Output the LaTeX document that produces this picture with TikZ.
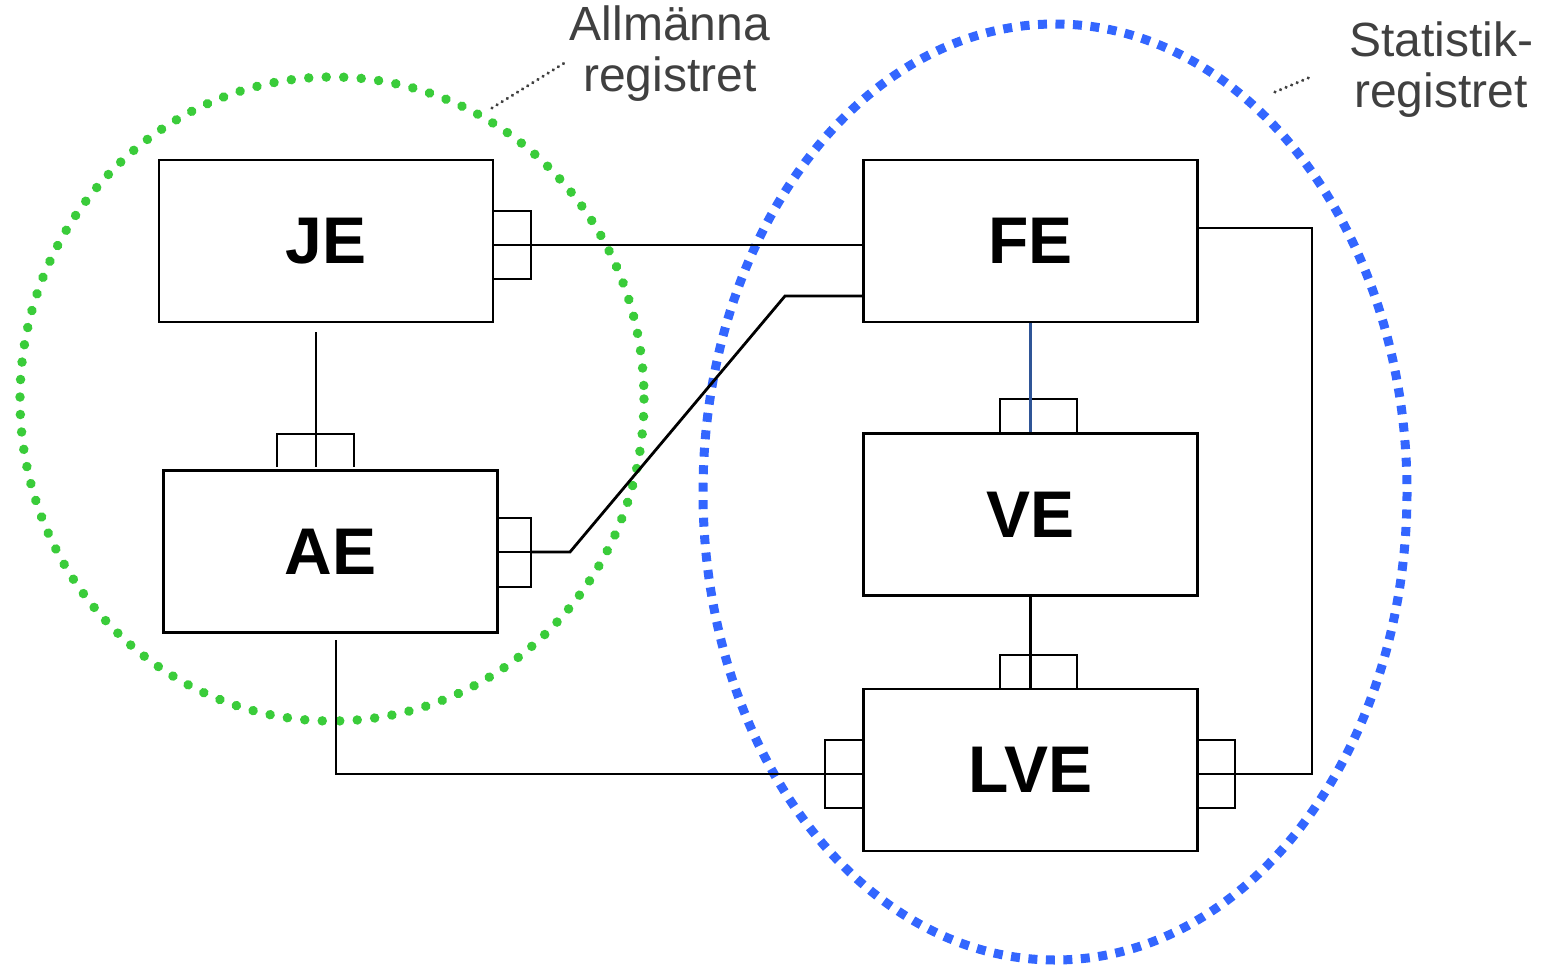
\documentclass[tikz,border=0pt]{standalone}
\usepackage{fontspec}
\setmainfont{Liberation Sans}
\definecolor{grn}{RGB}{58,204,58}
\definecolor{blu}{RGB}{51,102,255}
\definecolor{lbl}{RGB}{64,64,64}
\definecolor{vline}{RGB}{47,85,151}
\tikzset{
  entity/.style={draw, line width=2.8pt, minimum width=334pt, minimum height=162pt, inner sep=0pt, font=\fontsize{66}{72}\selectfont\bfseries},
  conn/.style={line width=2.8pt},
  greenring/.style={grn, line width=9.5pt, line cap=round, dash pattern=on 0.01pt off 17.5pt},
  bluering/.style={blu, line width=9pt, dash pattern=on 9pt off 8.5pt},
  leader/.style={lbl, line width=3.5pt, line cap=round, dash pattern=on 0.01pt off 6pt},
  tag/.style={lbl, align=center, font=\fontsize{48}{51}\selectfont, inner sep=0pt}
}
\begin{document}
\begin{tikzpicture}[x=1pt,y=-1pt]
\useasboundingbox (0,0) rectangle (1542,966);
% rings
\draw[greenring] (332,399) ellipse [x radius=312, y radius=322];
\draw[bluering] (1055,492) ellipse [x radius=352, y radius=468];
% labels
\node[tag] (lblA) at (670,54) {Allmänna\\registret};
\node[tag] (lblS) at (1441,70) {Statistik-\\registret};
\coordinate (la1) at (492,108);
\coordinate (la2) at (566,62);
\coordinate (ls1) at (1275,92);
\coordinate (ls2) at (1313,76);
\draw[leader] (la1) -- (la2);
\draw[leader] (ls1) -- (ls2);
% boxes
\node[entity] (JE) at (326,241) {JE};
\node[entity] (AE) at (330.5,551.5) {AE};
\node[entity] (FE) at (1030.5,241) {FE};
\node[entity] (VE) at (1030.5,514.5) {VE};
\node[entity] (LVE) at (1030.5,770) {LVE};
% stub coordinates
\coordinate (jeR) at (531,245);
\coordinate (aeR) at (531,552);
\coordinate (lveL) at (825,774);
\coordinate (lveR) at (1235,774);
% stubs
\draw[conn] (JE.east |- 0,211) -| (531,279) -- (JE.east |- 0,279);
\draw[conn] (JE.east |- jeR) -- (jeR);
\draw[conn] (AE.east |- 0,518) -| (531,587) -- (AE.east |- 0,587);
\draw[conn] (AE.east |- aeR) -- (aeR);
\draw[conn] (LVE.west |- 0,740) -| (825,808) -- (LVE.west |- 0,808);
\draw[conn] (LVE.west |- lveL) -- (lveL);
\draw[conn] (LVE.east |- 0,740) -| (1235,808) -- (LVE.east |- 0,808);
\draw[conn] (LVE.east |- lveR) -- (lveR);
% brackets on top
\draw[conn] (277,467) |- (354,434) -- (354,467);
\draw[conn] (1000,434) |- (1077,399) -- (1077,434);
\draw[conn] (1000,689) |- (1077,655) -- (1077,689);
% connectors
\draw[conn] (316,332) -- (316,467);
\draw[conn] (jeR) -- (FE.west |- jeR);
\draw[conn] (aeR) -- (570,552) -- (785,296) -- (FE.west |- 0,296);
\draw[conn, vline, line width=2.2pt] (FE.south) -- (VE.north);
\draw[conn] (VE.south) -- (LVE.north);
\draw[conn] (336,640) |- (lveL);
\draw[conn] (lveR) -- (1312,774) |- (FE.east |- 0,228);
\end{tikzpicture}
\end{document}
